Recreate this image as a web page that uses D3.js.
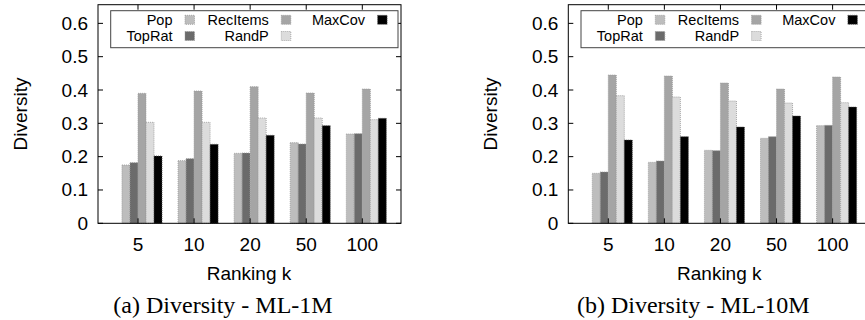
<!DOCTYPE html>
<html>
<head>
<meta charset="utf-8">
<script src="https://cdn.jsdelivr.net/npm/d3@7"></script>
<style>
html,body{margin:0;padding:0;background:#fff;}
svg{display:block;}
</style>
</head>
<body>
<svg id="chart" width="865" height="320"></svg>
<script>
// ---- data ----
const categories = ["5", "10", "20", "50", "100"];
const seriesNames = ["Pop", "TopRat", "RecItems", "RandP", "MaxCov"];
const seriesColors = ["#bdbdbd", "#6b6b6b", "#a5a5a5", "#dcdcdc", "#000000"];
const yTicks = [0, 0.1, 0.2, 0.3, 0.4, 0.5, 0.6];

// ML-1M
const ml1mPop      = [0.175, 0.188, 0.210, 0.242, 0.268];
const ml1mTopRat   = [0.182, 0.194, 0.211, 0.238, 0.269];
const ml1mRecItems = [0.390, 0.397, 0.410, 0.391, 0.403];
const ml1mRandP    = [0.303, 0.303, 0.316, 0.316, 0.311];
const ml1mMaxCov   = [0.202, 0.237, 0.264, 0.293, 0.315];

// ML-10M
const ml10mPop      = [0.150, 0.183, 0.219, 0.255, 0.293];
const ml10mTopRat   = [0.154, 0.187, 0.218, 0.260, 0.294];
const ml10mRecItems = [0.445, 0.442, 0.421, 0.403, 0.439];
const ml10mRandP    = [0.383, 0.379, 0.367, 0.361, 0.362];
const ml10mMaxCov   = [0.250, 0.260, 0.289, 0.322, 0.349];

const panels = [
  { left: 98, caption: "(a) Diversity - ML-1M",
    series: [ml1mPop, ml1mTopRat, ml1mRecItems, ml1mRandP, ml1mMaxCov] },
  { left: 568.3, caption: "(b) Diversity - ML-10M",
    series: [ml10mPop, ml10mTopRat, ml10mRecItems, ml10mRandP, ml10mMaxCov] }
];

const svg = d3.select("#chart");
const plotW = 303, plotTop = 4.7, plotBottom = 223.3;
const sans = "'Liberation Sans', Arial, Helvetica, sans-serif";
const nS = seriesNames.length;
const slot = 1 / (nS + 2);

panels.forEach(p => {
  const g = svg.append("g");
  const x = d3.scaleLinear().domain([-0.713, 4.69]).range([p.left, p.left + plotW]);
  const y = d3.scaleLinear().domain([0, 0.656]).range([plotBottom, plotTop]);

  // bars
  p.series.forEach((vals, j) => {
    g.selectAll(null).data(vals).enter().append("rect")
      .attr("x", (d, i) => x(i + (j - 2) * slot))
      .attr("width", (d, i) => x(i + (j - 1) * slot) - x(i + (j - 2) * slot))
      .attr("y", d => y(d))
      .attr("height", d => y(0) - y(d))
      .attr("fill", seriesColors[j])
      .attr("stroke", j === 4 ? "#555" : "#999")
      .attr("stroke-width", 0.8)
      .attr("stroke-dasharray", "1,1");
  });

  // frame
  g.append("rect")
    .attr("x", x.range()[0]).attr("y", plotTop)
    .attr("width", plotW).attr("height", plotBottom - plotTop)
    .attr("fill", "none").attr("stroke", "#000").attr("stroke-width", 1);

  // y ticks (inward, mirrored)
  yTicks.forEach(t => {
    g.append("line").attr("x1", x.range()[0]).attr("x2", x.range()[0] + 5)
      .attr("y1", y(t)).attr("y2", y(t)).attr("stroke", "#000");
    g.append("line").attr("x1", x.range()[1]).attr("x2", x.range()[1] - 5)
      .attr("y1", y(t)).attr("y2", y(t)).attr("stroke", "#000");
  });
  g.selectAll(null).data(yTicks).enter().append("text")
    .attr("x", x.range()[0] - 10).attr("y", d => y(d))
    .attr("text-anchor", "end").attr("dominant-baseline", "central")
    .attr("font-family", sans).attr("font-size", 19)
    .text(d => d === 0 ? "0" : d3.format(".1f")(d));

  // x ticks (top mirror, bottom)
  categories.forEach((c, i) => {
    g.append("line").attr("x1", x(i)).attr("x2", x(i))
      .attr("y1", plotTop).attr("y2", plotTop + 5).attr("stroke", "#000");
    g.append("line").attr("x1", x(i)).attr("x2", x(i))
      .attr("y1", plotBottom).attr("y2", plotBottom - 5).attr("stroke", "#000");
  });
  g.selectAll(null).data(categories).enter().append("text")
    .attr("x", (d, i) => x(i)).attr("y", 244.5)
    .attr("text-anchor", "middle").attr("dominant-baseline", "central")
    .attr("font-family", sans).attr("font-size", 19)
    .text(d => d);

  // axis titles
  g.append("text")
    .attr("x", x.range()[0] + plotW / 2 - 0.5).attr("y", 273.5)
    .attr("text-anchor", "middle").attr("dominant-baseline", "central")
    .attr("font-family", sans).attr("font-size", 19)
    .text("Ranking k");
  g.append("text")
    .attr("transform", `translate(${x.range()[0] - 78},${(plotTop + plotBottom) / 2}) rotate(-90)`)
    .attr("text-anchor", "middle").attr("dominant-baseline", "central")
    .attr("font-family", sans).attr("font-size", 19)
    .text("Diversity");

  // caption
  g.append("text")
    .attr("x", x.range()[0] + 125).attr("y", 312.5)
    .attr("text-anchor", "middle")
    .attr("font-family", "'Liberation Serif', 'Times New Roman', serif").attr("font-size", 24)
    .text(p.caption);

  // legend
  const L = x.range()[0];
  g.append("rect")
    .attr("x", L + 12.7).attr("y", 10.7)
    .attr("width", 287.3).attr("height", 37)
    .attr("fill", "#fff").attr("stroke", "#444").attr("stroke-width", 1);
  seriesNames.forEach((name, i) => {
    const col = Math.floor(i / 2), row = i % 2;
    const sx = L + 87 + col * 96.3;
    const cy = row === 0 ? 19.8 : 36;
    g.append("rect").attr("x", sx).attr("y", cy - 4.5)
      .attr("width", 9.5).attr("height", 9)
      .attr("fill", seriesColors[i])
      .attr("stroke", i === 4 ? "#555" : "#999").attr("stroke-width", 0.8)
      .attr("stroke-dasharray", "1,1");
    g.append("text").attr("x", sx - 12.5).attr("y", cy)
      .attr("text-anchor", "end").attr("dominant-baseline", "central")
      .attr("font-family", sans).attr("font-size", 14.5)
      .text(name);
  });
});
</script>
</body>
</html>
